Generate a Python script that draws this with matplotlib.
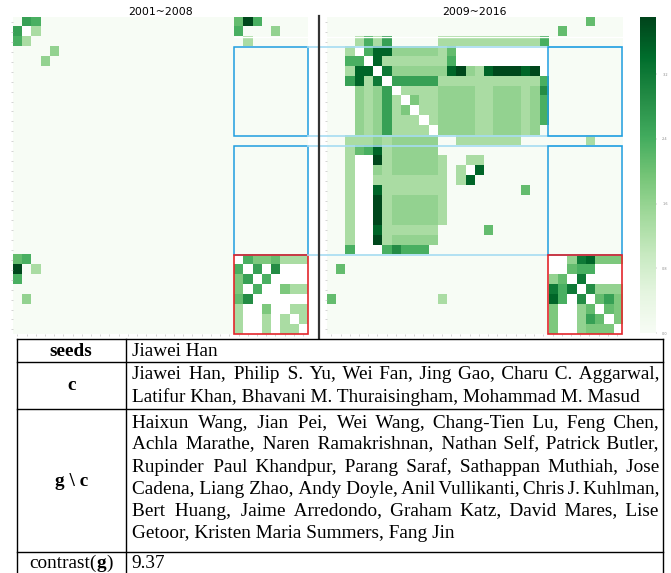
import numpy as np
import matplotlib
matplotlib.use("Agg")
import matplotlib.pyplot as plt
from matplotlib.colors import Normalize
from matplotlib.patches import Rectangle
import matplotlib.cm as cm

W, H = 671, 573

# colour levels ('.' = 0, 'w' = blank cell)
levels = {".": 0.0, "a": 1.35, "b": 1.6, "c": 1.85, "d": 2.1, "e": 2.35,
          "f": 2.6, "g": 2.9, "h": 3.2, "i": 3.5, "j": 3.85, "w": np.nan}
vmax = 3.9

rows_2001 = [
    ".fe..... ........ ........ dje.....",
    "fwa..... ........ ........ e...b...",
    "ea...... ........ ........ .a......",
    "....b... ........ ........ ........",
    "...b.... ........ ........ ........",
] + ["........ ........ ........ ........"] * 19 + [
    "de...... ........ ........ weccdaaa",
    "j.a..... ........ ........ ewfwgwww",
    "e....... ........ ........ cfwewwww",
    "........ ........ ........ cwewwcaa",
    ".b...... ........ ........ dgwwwwww",
    "........ ........ ........ awwcwwaa",
    "........ ........ ........ awwawawa",
    "........ ........ ........ awwawaaw",
]

rows_2009 = [
    "........ ........ ........ ....d...",
    "........ ........ ........ .d......",
    "...aeaf. ....aaaa aaaaaaae ........",
    "..aweiib bbbbadww wwwwwwww ........",
    "..eewiaa aaaaaeww wwwwwwww ........",
    "..aiiwhb bbbbbijb aijjjijw ........",
    "..fiahwf ffffaaaa aaaaaaae ........",
    "...babfw aaaabbbb aabbbabg ........",
    "...babfa wcaabbbb aabbbabe ........",
    "...babfa cwaabbbb aabbbabe ........",
    "...babfa aawabbbb aabbbabe ........",
    "...babfa aaawbbbb aabbbab. ........",
    "..aaabab bbbb..aa aaaaa... ....a...",
    "..adeiab bbbb.... ........ ........",
    "..awwjab bbbba..a a....... ........",
    "..awwbab bbbba.aw i....... ........",
    "..awwaaa aaaaa.ai ........ ........",
    "..awwiaa aaaaa... .....d.. ........",
    "..awwjab bbbba... ........ ........",
    "..awwjab bbbba... ........ ........",
    "..awwjab bbbba... ........ ........",
    "..awwiaa aaaa.... .d...... ........",
    "..awwjab bbbb.... ........ ........",
    "..ewwweg eee..... ........ ........",
    "........ ........ ........ wwbhiccc",
    ".d...... ........ ........ wwdeewww",
    "........ ........ ........ bdwhwwww",
    "........ ........ ........ hehwgbbb",
    "d....... ....a... ........ iewgwdfc",
    "........ ........ ........ cwwbdwdc",
    "........ ........ ........ cwwbfdwc",
    "........ ........ ........ cwwbcccw",
]

titles = ["2001~2008", "2009~2016"]
cbar_ticks = [0.0, 0.8, 1.6, 2.4, 3.2]

seeds_text = "Jiawei Han"
c_lines = [
    "Jiawei Han, Philip S. Yu, Wei Fan, Jing Gao, Charu C. Aggarwal,",
    "Latifur Khan, Bhavani M. Thuraisingham, Mohammad M. Masud",
]
gc_lines = [
    "Haixun Wang, Jian Pei, Wei Wang, Chang-Tien Lu, Feng Chen,",
    "Achla Marathe, Naren Ramakrishnan, Nathan Self, Patrick Butler,",
    "Rupinder Paul Khandpur, Parang Saraf, Sathappan Muthiah, Jose",
    "Cadena, Liang Zhao, Andy Doyle, Anil Vullikanti, Chris J. Kuhlman,",
    "Bert Huang, Jaime Arredondo, Graham Katz, David Mares, Lise",
    "Getoor, Kristen Maria Summers, Fang Jin",
]
contrast_text = "9.37"


def to_matrix(rows):
    return np.array([[levels[ch] for ch in r.replace(" ", "")] for r in rows])


def px(x0, y0, w, h):
    return [x0 / W, 1 - (y0 + h) / H, w / W, h / H]


fig = plt.figure(figsize=(W / 100, H / 100), dpi=100)
cmap = plt.get_cmap("Greens").copy()
cmap.set_bad("white")

axes = []
for i, (rows, title) in enumerate(zip([rows_2001, rows_2009], titles)):
    ax = fig.add_axes(px(12.7 + 314 * i, 17.3, 295, 317))
    ax.imshow(to_matrix(rows), cmap=cmap, vmin=0, vmax=vmax,
              aspect="auto", interpolation="nearest")
    ax.set_title(title, fontsize=7.8, pad=1.5)
    ax.set_xticks(range(32))
    ax.set_yticks(range(32))
    ax.set_xticklabels([])
    ax.set_yticklabels([])
    ax.tick_params(length=1.5, width=0.4, color="#b5b5b5")
    for s in ax.spines.values():
        s.set_visible(False)
    # white rule under the first two rows
    x0 = 23.5 if i == 0 else -0.5
    ax.plot([x0, 31.5], [1.5, 1.5], color="white", lw=1.0, clip_on=False)
    # cluster boxes
    for y, h in [(2.5, 9), (12.5, 11)]:
        ax.add_patch(Rectangle((23.5, y), 8, h, fill=False, ec="#1f9ee0",
                               lw=1.1, clip_on=False, zorder=5))
    ax.add_patch(Rectangle((23.5, 23.5), 8, 8, fill=False, ec="#e3262c",
                           lw=1.2, clip_on=False, zorder=6))
    axes.append(ax)

ax2 = axes[1]
for y in [2.5, 11.5, 12.5, 23.5]:
    ax2.plot([-2.56, 31.5], [y, y], color="#a6dcf2", lw=1.4, alpha=0.85,
             clip_on=False, zorder=4)
ax2.plot([-1.335, -1.335], [-0.6, 31.85], color="#333333", lw=1.6,
         clip_on=False, zorder=6)

for ax in axes:
    ax.set_xlim(-0.5, 31.5)
    ax.set_ylim(31.5, -0.5)

cax = fig.add_axes(px(640, 17.3, 16, 316))
cb = fig.colorbar(cm.ScalarMappable(norm=Normalize(0, vmax), cmap=cmap),
                  cax=cax, ticks=cbar_ticks)
cb.set_ticklabels([f"{t:.1f}" for t in cbar_ticks])
cb.ax.tick_params(labelsize=2.5, length=1, width=0.3, colors="#888888")
cb.outline.set_visible(False)

# ---- table below the heatmaps ----
serif = ["Liberation Serif", "DejaVu Serif"]
x_tab0, x_div, x_tab1 = 16.5, 126, 663
x_txt0, x_txt1 = 131.5, 658.5
span = x_txt1 - x_txt0
HAIR = "\u200a"
renderer = fig.canvas.get_renderer()


def text_w(s, size, weight="normal"):
    t = fig.text(0, 0, s, fontsize=size, family=serif, weight=weight)
    w = t.get_window_extent(renderer).width
    t.remove()
    return w


def put(x, y, s, size, weight="normal", ha="left"):
    fig.text(x / W, 1 - y / H, s, fontsize=size, family=serif,
             weight=weight, ha=ha, va="baseline")


size0 = 14
justified = c_lines[:-1] + gc_lines[:-1]
widest = max(text_w(l, size0) for l in justified)
fs = size0 * span * 1.015 / widest
hw = (text_w("x" + HAIR * 40 + "x", fs) - text_w("xx", fs)) / 40


def justify(line):
    # one text per line: widen the gaps with hair spaces
    words = line.split(" ")
    n = len(words) - 1
    words_w = text_w(HAIR.join(words), fs) - n * hw
    total = max(n, int(round((span - words_w) / hw)))
    ks = [total // n + (1 if k < total % n else 0) for k in range(n)]
    out = words[0]
    for k, wd in zip(ks, words[1:]):
        out += HAIR * k + wd
    return out


def put_par(lines, baselines):
    for k, (line, y) in enumerate(zip(lines, baselines)):
        s = line if k == len(lines) - 1 else justify(line)
        put(x_txt0, y, s, fs)


for y in [338.5, 361.5, 408.5, 551.5]:
    fig.add_artist(plt.Line2D([x_tab0 / W, x_tab1 / W], [1 - y / H] * 2,
                              color="black", lw=1.0))
for x in [x_tab0, x_div, x_tab1]:
    fig.add_artist(plt.Line2D([x / W] * 2, [1 - 338.5 / H, 0],
                              color="black", lw=1.0))

xc = (x_tab0 + x_div) / 2
put(xc, 356, "seeds", fs, weight="bold", ha="center")
put(x_txt0, 356, seeds_text, fs)

put(xc, 390, "c", fs, weight="bold", ha="center")
put_par(c_lines, [379, 402])

put(xc, 486, "g \\ c", fs, weight="bold", ha="center")
put_par(gc_lines, [427.5, 449.5, 471.5, 493.5, 515.5, 537.5])

# contrast(g) with bold g
parts = [("contrast(", "normal"), ("g", "bold"), (")", "normal")]
total_w = sum(text_w(p, fs, wt) for p, wt in parts)
x = xc - total_w / 2
for p, wt in parts:
    put(x, 567.5, p, fs, weight=wt)
    x += text_w(p, fs, wt)
put(x_txt0, 567.5, contrast_text, fs)

fig.savefig("out.png", dpi=100)
